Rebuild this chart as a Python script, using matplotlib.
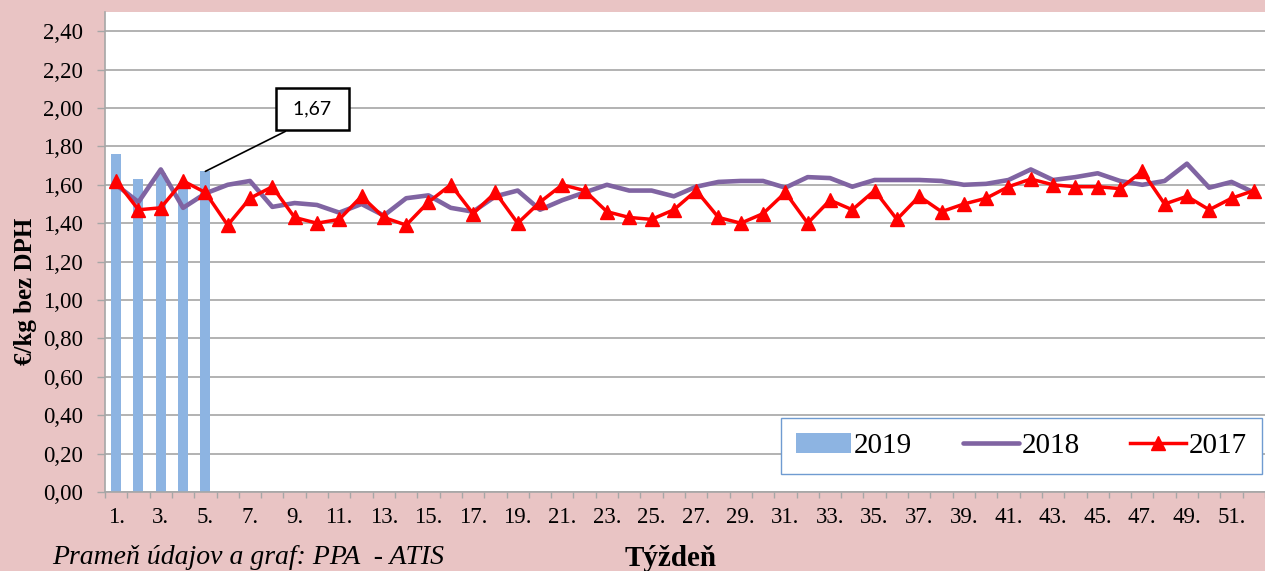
import numpy as np
import matplotlib
matplotlib.use("Agg")
import matplotlib.pyplot as plt

# Data
weeks = np.arange(1, 53)
tick_weeks = np.arange(1, 52, 2)
tick_labels = [f"{w}." for w in tick_weeks]

weeks_2019 = [1, 2, 3, 4, 5]
price_2019 = [1.76, 1.63, 1.66, 1.61, 1.67]

price_2018 = [1.60, 1.51, 1.68, 1.48, 1.555, 1.60, 1.62, 1.485, 1.505, 1.495,
              1.455, 1.50, 1.44, 1.53, 1.545, 1.48, 1.46, 1.54, 1.57, 1.47,
              1.52, 1.56, 1.60, 1.57, 1.57, 1.54, 1.59, 1.615, 1.62, 1.62,
              1.585, 1.64, 1.635, 1.59, 1.625, 1.625, 1.625, 1.62, 1.60, 1.605,
              1.625, 1.68, 1.625, 1.64, 1.66, 1.62, 1.60, 1.62, 1.71, 1.585,
              1.615, 1.56]

price_2017 = [1.62, 1.47, 1.48, 1.62, 1.56, 1.39, 1.53, 1.59, 1.43, 1.40,
              1.42, 1.54, 1.43, 1.39, 1.51, 1.60, 1.45, 1.56, 1.40, 1.51,
              1.60, 1.57, 1.46, 1.43, 1.42, 1.47, 1.57, 1.43, 1.40, 1.45,
              1.56, 1.40, 1.52, 1.47, 1.57, 1.42, 1.54, 1.46, 1.50, 1.53,
              1.59, 1.63, 1.60, 1.59, 1.59, 1.58, 1.67, 1.50, 1.54, 1.47,
              1.53, 1.57]

y_ticks = np.arange(0, 2.41, 0.2)

# Style
BG = "#E9C4C4"
BAR_COLOR = "#8DB4E2"
PURPLE = "#8064A2"
RED = "#FF0000"
GRID = "#A6A6A6"
SERIF = "Liberation Serif"

fig = plt.figure(figsize=(12.65, 5.71), dpi=100, facecolor=BG)
W, H = 1265, 571
ax = fig.add_axes([105 / W, 79 / H, 1160 / W, 480 / H])
ax.set_facecolor("white")

bars = ax.bar(weeks_2019, price_2019, width=0.45, color=BAR_COLOR, label="2019", zorder=2)
line18, = ax.plot(weeks, price_2018, color=PURPLE, lw=3.3, label="2018", zorder=3,
                  solid_capstyle="round")
line17, = ax.plot(weeks, price_2017, color=RED, lw=2.5, marker="^", markersize=9.5,
                  label="2017", zorder=4)

ax.set_xlim(0.5, 52.05)
ax.set_ylim(0, 2.5)

ax.set_yticks(y_ticks)
ax.set_yticklabels([f"{v:.2f}".replace(".", ",") for v in y_ticks])
ax.set_xticks(tick_weeks)
ax.set_xticklabels(tick_labels)
ax.set_xticks(np.arange(0.5, 53, 1), minor=True)

ax.grid(axis="y", color=GRID, lw=1.2, zorder=0)
ax.set_axisbelow(True)

for side in ["top", "right"]:
    ax.spines[side].set_visible(False)
for side in ["left", "bottom"]:
    ax.spines[side].set_color(GRID)
    ax.spines[side].set_linewidth(1.2)

ax.tick_params(axis="y", length=6, width=1, color=GRID, pad=10,
               labelsize=16.5, labelfontfamily=SERIF)
ax.tick_params(axis="x", which="major", length=0, pad=11,
               labelsize=16.5, labelfontfamily=SERIF)
ax.tick_params(axis="x", which="minor", length=4, width=1, color=GRID)

# annotation for last 2019 value
ax.annotate(f" {price_2019[-1]:.2f} ".replace(".", ","),
            xy=(weeks_2019[-1], price_2019[-1]),
            xytext=(107, 62), textcoords="offset pixels",
            ha="center", va="center", fontsize=14, family="Lato",
            bbox=dict(boxstyle="square,pad=0.65", fc="white", ec="black", lw=1.8),
            arrowprops=dict(arrowstyle="-", color="black", lw=1.2,
                            relpos=(0.5, 0), shrinkA=0, shrinkB=0),
            zorder=6)

leg = ax.legend([bars, line18, line17], ["2019", "2018", "2017"],
                loc="lower left", bbox_to_anchor=(0.583, 0.0375, 0.414, 0.121),
                mode="expand", ncol=3, fancybox=False, framealpha=1,
                edgecolor="#6F9BD1", prop={"family": SERIF, "size": 21},
                handlelength=1.9, handletextpad=0.1, borderaxespad=0,
                borderpad=0.5, numpoints=1, columnspacing=1.0)
leg.get_frame().set_linewidth(1.0)
leg.set_zorder(7)

fig.text(26 / W, 1 - 291 / H, "€/kg bez DPH", rotation=90, ha="center",
         va="center", fontsize=18, fontweight="bold", family=SERIF)
fig.text(671 / W, 1 - 558 / H, "Týždeň", ha="center", va="center",
         fontsize=21, fontweight="bold", family=SERIF)
fig.text(52 / W, 1 - 558 / H, "Prameň údajov a graf: PPA  - ATIS", ha="left",
         va="center", fontsize=20, style="italic", family=SERIF)

fig.savefig("out.png", dpi=100, facecolor=BG)
